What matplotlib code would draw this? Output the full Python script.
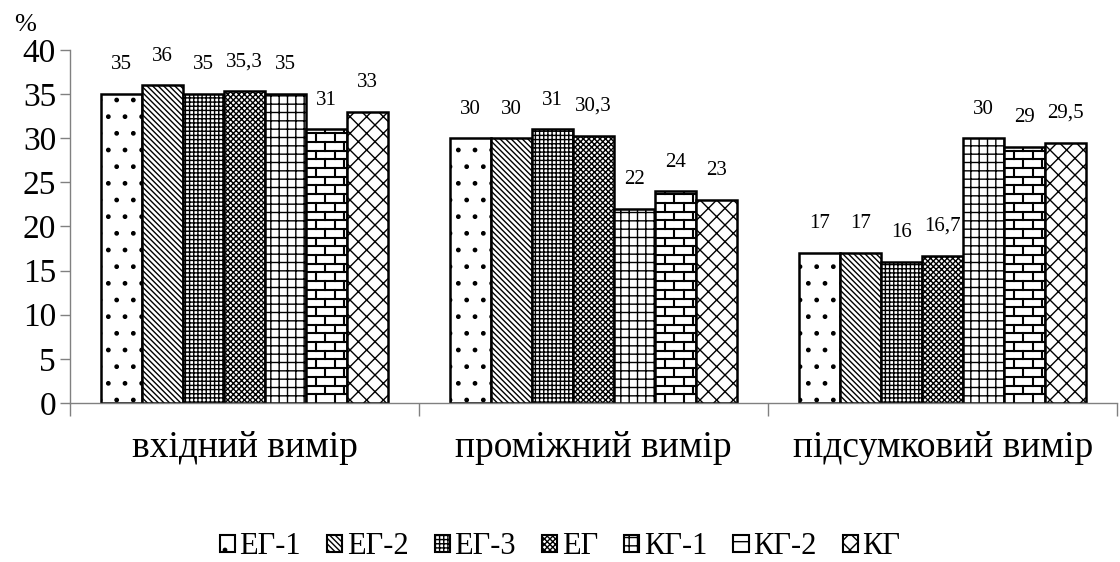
import matplotlib
matplotlib.use("Agg")
import matplotlib.pyplot as plt
import numpy as np
from matplotlib.patches import Patch

plt.rcParams["font.family"] = ["Liberation Serif", "DejaVu Serif"]
plt.rcParams["hatch.linewidth"] = 1.0

# measurement stages and groups
stages = ["вхідний вимір", "проміжний вимір", "підсумковий вимір"]
groups = ["ЕГ-1", "ЕГ-2", "ЕГ-3", "ЕГ", "КГ-1", "КГ-2", "КГ"]

eg1 = [35, 30, 17]
eg2 = [36, 30, 17]
eg3 = [35, 31, 16]
eg = [35.3, 30.3, 16.7]
kg1 = [35, 22, 30]
kg2 = [31, 24, 29]
kg = [33, 23, 29.5]
series = [eg1, eg2, eg3, eg, kg1, kg2, kg]

# "brick" is drawn by hand below, the rest use built-in hatches
hatches = [".", "\\" * 6, "++++", "xxxxxx", "++", "brick", "xx"]
legend_hatches = [".", "\\" * 6, "++++", "xxxxxx", "++", "-", "xx"]

fig = plt.figure(figsize=(11.2, 5.62), dpi=100)
ax = fig.add_axes([0.0625, 0.283, 0.935, 0.628])

x = np.arange(len(stages))
bw = 0.1175
px_x = 1 / 349.0   # data units per pixel, horizontally
px_y = 40 / 353.0  # data units per pixel, vertically


def draw_bricks(bar):
    x0, w, h = bar.get_x(), bar.get_width(), bar.get_height()
    dy = 8.7 * px_y
    brick = 19 * px_x
    row = 0
    y = 0.0
    while y < h:
        top = min(y + dy, h)
        ln = ax.plot([x0, x0 + w], [top, top], color="black", lw=1.5)[0]
        ln.set_clip_path(bar)
        xs = x0 + (brick / 2 if row % 2 else 0.0) + brick * 0.5
        while xs < x0 + w:
            ln = ax.plot([xs, xs], [y, top], color="black", lw=1.5)[0]
            ln.set_clip_path(bar)
            xs += brick
        y += dy
        row += 1


for i, (vals, h) in enumerate(zip(series, hatches)):
    pos = x + (i - 3) * bw
    bars = ax.bar(pos, vals, width=bw, facecolor="white", edgecolor="black",
                  linewidth=1.8, hatch=None if h == "brick" else h, zorder=2)
    for bar, v in zip(bars, vals):
        if h == "brick":
            draw_bricks(bar)
        ax.annotate(f"{v:g}".replace(".", ","),
                    (bar.get_x() + bar.get_width() / 2, v),
                    xytext=(0, 21), textcoords="offset points",
                    ha="center", va="center", fontsize=15)

ax.set_xlim(-0.5, 2.5)
ax.set_ylim(0, 40)
ax.set_yticks(np.arange(0, 41, 5))
ax.tick_params(axis="y", labelsize=24, length=7, color="#808080", width=1,
               pad=3)
ax.set_xticks(x)
ax.set_xticklabels(stages, fontsize=27)
ax.tick_params(axis="x", length=0, pad=20)
ax.set_xticks([-0.5, 0.5, 1.5, 2.5], minor=True)
ax.tick_params(axis="x", which="minor", length=9, color="#808080", width=1)
for s in ["top", "right"]:
    ax.spines[s].set_visible(False)
for s in ["left", "bottom"]:
    ax.spines[s].set_color("#808080")
    ax.spines[s].set_linewidth(1)

fig.text(0.013, 0.945, "%", fontsize=19)

handles = [Patch(facecolor="white", edgecolor="black", linewidth=1.5, hatch=h)
           for h in legend_hatches]
fig.legend(handles, groups, loc="center", bbox_to_anchor=(0.5, 0.027),
           ncol=7, frameon=False, fontsize=22, handlelength=0.5,
           handleheight=0.5, handletextpad=0.15, columnspacing=0.85)

fig.savefig("out.png", dpi=100)
